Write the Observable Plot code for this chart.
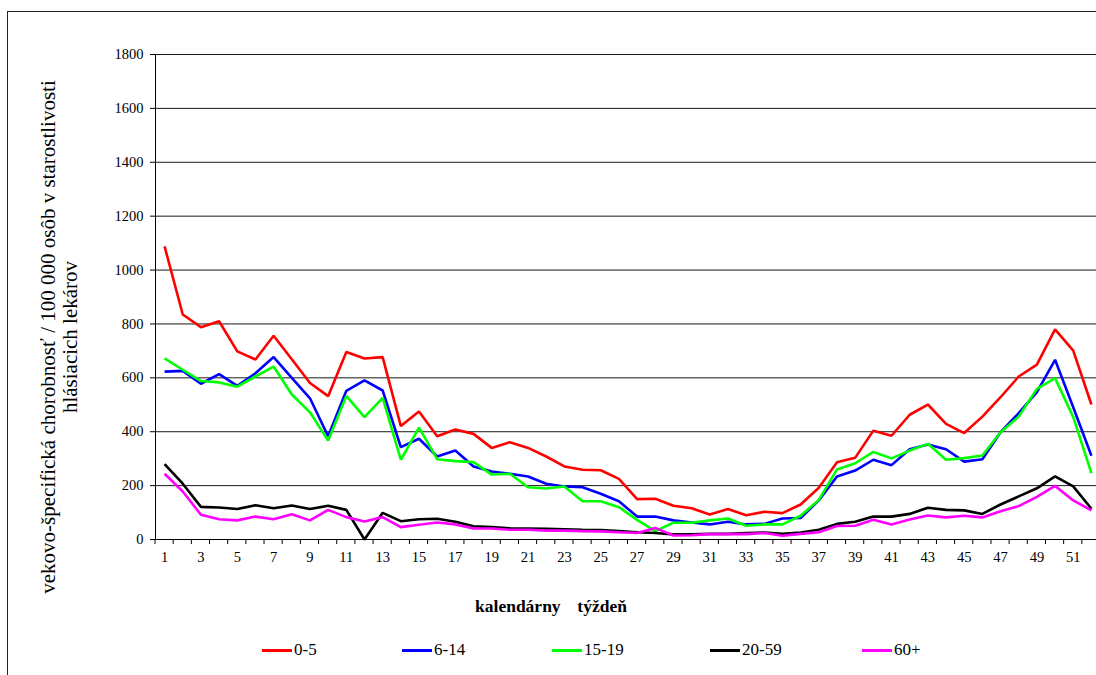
<!DOCTYPE html>
<html><head><meta charset="utf-8">
<script src="https://cdn.jsdelivr.net/npm/d3@7"></script>
<script src="https://cdn.jsdelivr.net/npm/@observablehq/plot@0.6"></script>
<style>
body{margin:0;background:#fff;font-family:"Liberation Serif","Times New Roman",serif;}
#wrap{position:relative;width:1096px;height:675px;overflow:hidden;}
#frame{position:absolute;left:7px;top:11px;width:1100px;height:680px;border:1px solid #222;box-sizing:border-box;}
#chart{position:absolute;left:0;top:0;}
#ytitle{position:absolute;left:59px;top:337px;transform:translate(-50%,-50%) rotate(-90deg);white-space:nowrap;text-align:center;font-size:21px;line-height:22px;color:#000;}
#xtitle{position:absolute;left:0;width:1102px;top:596px;text-align:center;font-size:17.5px;font-weight:bold;word-spacing:4px;}
.leg{position:absolute;top:640px;font-size:17px;display:flex;align-items:center;}
.leg span.l{display:inline-block;width:30px;height:3px;margin-right:2px;}
</style></head>
<body>
<div id="wrap">
<div id="frame"></div>
<div id="chart"></div>
<div id="ytitle">vekovo-špecifická chorobnosť / 100 000 osôb v starostlivosti<br>hlásiacich lekárov</div>
<div id="xtitle">kalendárny &nbsp;týždeň</div>
<div id="legend"></div>
</div>
<script>
const weeks = d3.range(1, 53);
const seriesNames = ["0-5", "6-14", "15-19", "20-59", "60+"];
const seriesColors = ["#ff0000", "#0000ff", "#00ff00", "#000000", "#ff00ff"];
const age0_5 = [1088,835,788,810,698,668,756,669,581,532,696,672,677,
  421,475,383,408,392,340,361,340,308,271,259,257,225,
  150,151,125,116,93,113,90,103,98,130,192,
  287,303,404,385,463,501,429,395,456,528,605,649,780,701,501];
const age6_14 = [623,626,578,614,570,617,677,600,524,383,552,591,553,
  343,374,308,330,271,252,244,234,207,197,194,170,142,
  85,85,71,63,56,66,56,58,78,80,145,
  234,256,296,276,335,353,335,289,298,398,469,547,667,491,311];
const age15_19 = [672,630,588,583,567,605,642,538,472,367,533,454,526,
  296,415,298,291,287,241,244,194,189,197,142,142,120,
  73,31,62,62,71,78,51,56,56,88,147,
  260,283,325,301,330,355,296,302,312,398,456,559,599,454,246];
const age20_59 = [280,207,121,119,113,127,116,126,113,125,110,0,99,
  68,75,77,66,49,46,42,41,40,38,36,35,31,
  27,24,19,19,21,21,24,26,21,26,36,
  58,66,85,85,95,118,110,108,95,130,160,190,234,197,114];
const age60 = [244,178,92,75,71,85,75,94,71,110,83,67,83,
  46,55,63,56,41,41,36,36,33,33,31,30,27,
  24,43,15,16,20,20,20,24,14,21,27,
  50,51,73,56,74,89,82,88,82,105,124,158,199,145,108];
const yTicks = [0,200,400,600,800,1000,1200,1400,1600,1800];
const xTickLabels = weeks.filter(w => w % 2 === 1);

const allSeries = [age0_5, age6_14, age15_19, age20_59, age60];
const rows = [];
allSeries.forEach((vals, i) => vals.forEach((v, j) => rows.push({week: weeks[j], value: v, series: seriesNames[i]})));
const boundaries = d3.range(0.5, 53, 1);

const plot = Plot.plot({
  width: 1096, height: 590,
  marginLeft: 155, marginRight: 0, marginTop: 54, marginBottom: 51,
  style: {fontFamily: '"Liberation Serif","Times New Roman",serif', fontSize: "14.5px", background: "transparent", overflow: "visible", color: "#000"},
  x: {type: "linear", domain: [0.5, 52.28], axis: null},
  y: {type: "linear", domain: [0, 1800], axis: null},
  color: {domain: seriesNames, range: seriesColors},
  marks: [
    Plot.ruleY(yTicks.filter(d => d > 0), {stroke: "#1a1a1a", strokeWidth: 1}),
    Plot.ruleX([0.5], {stroke: "#000", strokeWidth: 1}),
    Plot.ruleY([0], {stroke: "#000", strokeWidth: 1}),
    Plot.axisY(yTicks, {tickSize: 5, tickPadding: 7, fontSize: 14.5, stroke: "#000", label: null, tickFormat: d => String(d)}),
    Plot.axisX(xTickLabels, {tickSize: 0, tickPadding: 12, fontSize: 14.5, label: null, tickFormat: d => String(d)}),
    Plot.line(rows, {x: "week", y: "value", z: "series", stroke: "series", strokeWidth: 2.6, strokeLinejoin: "miter", strokeLinecap: "butt"})
  ]
});
document.getElementById("chart").appendChild(plot);

// tick marks below x axis at category boundaries
const svg = d3.select(plot);
const xs = plot.scale("x"), ys = plot.scale("y");
svg.append("g").selectAll("line").data(boundaries).join("line")
  .attr("x1", d => xs.apply(d)).attr("x2", d => xs.apply(d))
  .attr("y1", ys.apply(0)).attr("y2", ys.apply(0) + 5)
  .attr("stroke", "#000");

const legendX = [262, 402, 552, 710, 862];
const lg = document.getElementById("legend");
seriesNames.forEach((n, i) => {
  const d = document.createElement("div");
  d.className = "leg";
  d.style.left = legendX[i] + "px";
  d.innerHTML = `<span class="l" style="background:${seriesColors[i]}"></span>${n}`;
  lg.appendChild(d);
});
</script>
</body></html>
